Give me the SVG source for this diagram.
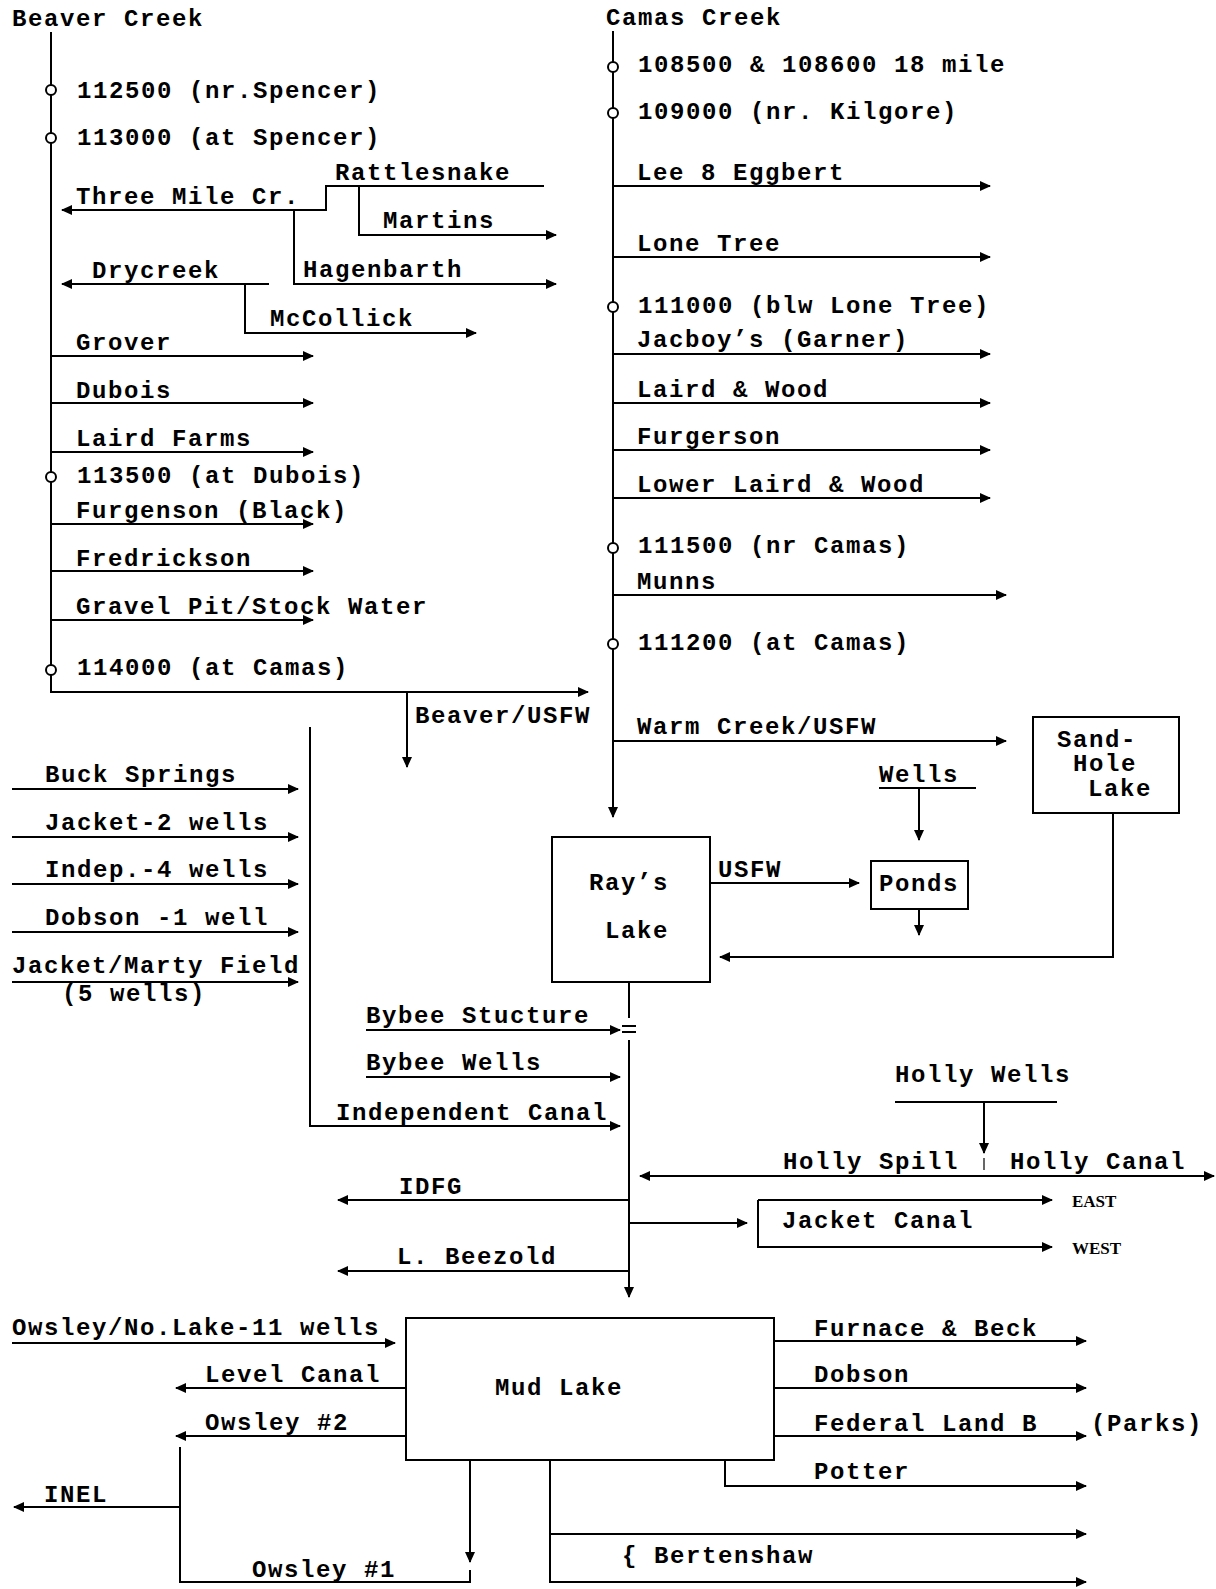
<svg xmlns="http://www.w3.org/2000/svg" width="1216" height="1589" viewBox="0 0 1216 1589">
<style>
text{font-family:"Liberation Mono","DejaVu Sans Mono",monospace;font-weight:bold;font-size:24px;letter-spacing:1.6px;fill:#000}
text.sm{font-family:"Liberation Serif",serif;font-size:17px;letter-spacing:0}
.ln{fill:none;stroke:#000;stroke-width:2}
.ar{marker-end:url(#ah)}
.thin{fill:none;stroke:#000;stroke-width:1.2}
.g{fill:#fff;stroke:#000;stroke-width:2}
.box{fill:#fff;stroke:#000;stroke-width:2}
</style>
<defs>
<marker id="ah" markerWidth="11" markerHeight="10" refX="10" refY="5" orient="auto" markerUnits="userSpaceOnUse"><path d="M0,0 L11,5 L0,10 z" fill="#000"/></marker>
</defs>
<rect width="1216" height="1589" fill="#fff"/>
<g id="connectors">
<!-- Beaver Creek main -->
<path class="ln ar" d="M51,32 V692 H588"/>
<path class="ln ar" d="M544,186 H326 V210 H62"/>
<path class="ln ar" d="M359,186 V235 H556"/>
<path class="ln ar" d="M294,210 V284 H556"/>
<path class="ln ar" d="M269,284 H62"/>
<path class="ln ar" d="M245,284 V333 H476"/>
<path class="ln ar" d="M51,356 H313"/>
<path class="ln ar" d="M51,403 H313"/>
<path class="ln ar" d="M51,452 H313"/>
<path class="ln ar" d="M51,524 H313"/>
<path class="ln ar" d="M51,571 H313"/>
<path class="ln ar" d="M51,620 H313"/>
<path class="ln ar" d="M407,692 V767"/>
<!-- middle left -->
<path class="ln ar" d="M310,727 V1126 H620"/>
<path class="ln ar" d="M12,789 H298"/>
<path class="ln ar" d="M12,837 H298"/>
<path class="ln ar" d="M12,884 H298"/>
<path class="ln ar" d="M12,932 H298"/>
<path class="ln ar" d="M12,982 H298"/>
<path class="ln ar" d="M366,1030 H620"/>
<path class="ln ar" d="M366,1077 H620"/>
<!-- Camas Creek -->
<path class="ln ar" d="M613,31 V817"/>
<path class="ln ar" d="M613,186 H990"/>
<path class="ln ar" d="M613,257 H990"/>
<path class="ln ar" d="M613,354 H990"/>
<path class="ln ar" d="M613,403 H990"/>
<path class="ln ar" d="M613,450 H990"/>
<path class="ln ar" d="M613,498 H990"/>
<path class="ln ar" d="M613,595 H1006"/>
<path class="ln ar" d="M613,741 H1006"/>
<!-- lakes -->
<path class="ln" d="M879,788 H976"/>
<path class="ln ar" d="M919,788 V840"/>
<path class="ln ar" d="M919,909 V935"/>
<path class="ln ar" d="M710,883 H859"/>
<path class="ln ar" d="M1113,813 V957 H720"/>
<path class="ln" d="M629,982 V1018 M622,1026 H636 M622,1032 H636"/>
<path class="ln ar" d="M629,1040 V1297"/>
<path class="ln" d="M895,1102 H1057"/>
<path class="ln ar" d="M984,1102 V1153"/>
<path class="thin" d="M984,1158 V1170"/>
<path class="ln ar" d="M984,1176 H640"/>
<path class="ln ar" d="M984,1176 H1214"/>
<path class="ln ar" d="M629,1200 H338"/>
<path class="ln ar" d="M629,1271 H338"/>
<path class="ln ar" d="M629,1223 H747"/>
<path class="ln ar" d="M758,1200 H1052"/>
<path class="ln ar" d="M758,1200 V1247 H1052"/>
<!-- Mud Lake -->
<path class="ln ar" d="M12,1343 H395"/>
<path class="ln ar" d="M406,1388 H176"/>
<path class="ln ar" d="M406,1436 H176"/>
<path class="ln" d="M180,1447 V1582 H470 V1570"/>
<path class="ln ar" d="M180,1507 H14"/>
<path class="ln ar" d="M470,1460 V1562"/>
<path class="ln ar" d="M550,1460 V1582 H1086"/>
<path class="ln ar" d="M550,1534 H1086"/>
<path class="ln ar" d="M774,1341 H1086"/>
<path class="ln ar" d="M774,1388 H1086"/>
<path class="ln ar" d="M774,1436 H1086"/>
<path class="ln ar" d="M725,1460 V1486 H1086"/>
</g>
<g id="beaver-creek"><text x="12" y="26">Beaver Creek</text></g>
<g id="g112500"><circle class="g" cx="51" cy="90" r="5"/><text x="77" y="98">112500 (nr.Spencer)</text></g>
<g id="g113000"><circle class="g" cx="51" cy="138" r="5"/><text x="77" y="145">113000 (at Spencer)</text></g>
<g id="rattlesnake"><text x="335" y="180">Rattlesnake</text></g>
<g id="three-mile"><text x="76" y="204">Three Mile Cr.</text></g>
<g id="martins"><text x="383" y="228">Martins</text></g>
<g id="hagenbarth"><text x="303" y="277">Hagenbarth</text></g>
<g id="drycreek"><text x="92" y="278">Drycreek</text></g>
<g id="mccollick"><text x="270" y="326">McCollick</text></g>
<g id="grover"><text x="76" y="350">Grover</text></g>
<g id="dubois"><text x="76" y="398">Dubois</text></g>
<g id="laird-farms"><text x="76" y="446">Laird Farms</text></g>
<g id="g113500"><circle class="g" cx="51" cy="477" r="5"/><text x="77" y="483">113500 (at Dubois)</text></g>
<g id="furgenson"><text x="76" y="518">Furgenson (Black)</text></g>
<g id="fredrickson"><text x="76" y="566">Fredrickson</text></g>
<g id="gravel-pit"><text x="76" y="614">Gravel Pit/Stock Water</text></g>
<g id="g114000"><circle class="g" cx="51" cy="670" r="5"/><text x="77" y="675">114000 (at Camas)</text></g>
<g id="beaver-usfw"><text x="415" y="723">Beaver/USFW</text></g>
<g id="buck-springs"><text x="45" y="782">Buck Springs</text></g>
<g id="jacket-2"><text x="45" y="830">Jacket-2 wells</text></g>
<g id="indep-4"><text x="45" y="877">Indep.-4 wells</text></g>
<g id="dobson-1"><text x="45" y="925">Dobson -1 well</text></g>
<g id="jacket-marty"><text x="12" y="973">Jacket/Marty Field</text><text x="62" y="1001">(5 wells)</text></g>
<g id="bybee-stucture"><text x="366" y="1023">Bybee Stucture</text></g>
<g id="bybee-wells"><text x="366" y="1070">Bybee Wells</text></g>
<g id="independent-canal"><text x="336" y="1120">Independent Canal</text></g>
<g id="camas-creek"><text x="606" y="25">Camas Creek</text></g>
<g id="g108500"><circle class="g" cx="613" cy="67" r="5"/><text x="638" y="72">108500 &amp; 108600 18 mile</text></g>
<g id="g109000"><circle class="g" cx="613" cy="113" r="5"/><text x="638" y="119">109000 (nr. Kilgore)</text></g>
<g id="lee-eggbert"><text x="637" y="180">Lee 8 Eggbert</text></g>
<g id="lone-tree"><text x="637" y="251">Lone Tree</text></g>
<g id="g111000"><circle class="g" cx="613" cy="307" r="5"/><text x="638" y="313">111000 (blw Lone Tree)</text></g>
<g id="jacboys"><text x="637" y="347">Jacboy’s (Garner)</text></g>
<g id="laird-wood"><text x="637" y="397">Laird &amp; Wood</text></g>
<g id="furgerson"><text x="637" y="444">Furgerson</text></g>
<g id="lower-laird"><text x="637" y="492">Lower Laird &amp; Wood</text></g>
<g id="g111500"><circle class="g" cx="613" cy="548" r="5"/><text x="638" y="553">111500 (nr Camas)</text></g>
<g id="munns"><text x="637" y="589">Munns</text></g>
<g id="g111200"><circle class="g" cx="613" cy="644" r="5"/><text x="638" y="650">111200 (at Camas)</text></g>
<g id="warm-creek"><text x="637" y="734">Warm Creek/USFW</text></g>
<g id="sandhole"><rect class="box" x="1033" y="717" width="146" height="96"/><text x="1057" y="747">Sand-</text><text x="1073" y="771">Hole</text><text x="1088" y="796">Lake</text></g>
<g id="wells"><text x="879" y="782">Wells</text></g>
<g id="ponds"><rect class="box" x="871" y="861" width="97" height="48"/><text x="879" y="891">Ponds</text></g>
<g id="rays-lake"><rect class="box" x="552" y="837" width="158" height="145"/><text x="589" y="890">Ray’s</text><text x="605" y="938">Lake</text></g>
<g id="usfw"><text x="718" y="877">USFW</text></g>
<g id="holly-wells"><text x="895" y="1082">Holly Wells</text></g>
<g id="holly-spill"><text x="783" y="1169">Holly Spill</text></g>
<g id="holly-canal"><text x="1010" y="1169">Holly Canal</text></g>
<g id="idfg"><text x="399" y="1194">IDFG</text></g>
<g id="beezold"><text x="397" y="1264">L. Beezold</text></g>
<g id="jacket-canal"><text x="782" y="1228">Jacket Canal</text><text class="sm" x="1072" y="1207">EAST</text><text class="sm" x="1072" y="1254">WEST</text></g>
<g id="mud-lake"><rect class="box" x="406" y="1318" width="368" height="142"/><text x="495" y="1395">Mud Lake</text></g>
<g id="owsley-nolake"><text x="12" y="1335">Owsley/No.Lake-11 wells</text></g>
<g id="level-canal"><text x="205" y="1382">Level Canal</text></g>
<g id="owsley-2"><text x="205" y="1430">Owsley #2</text></g>
<g id="inel"><text x="44" y="1502">INEL</text></g>
<g id="owsley-1"><text x="252" y="1577">Owsley #1</text></g>
<g id="bertenshaw"><text x="622" y="1563">{ Bertenshaw</text></g>
<g id="furnace-beck"><text x="814" y="1336">Furnace &amp; Beck</text></g>
<g id="dobson"><text x="814" y="1382">Dobson</text></g>
<g id="federal-land"><text x="814" y="1431">Federal Land B</text><text x="1091" y="1431">(Parks)</text></g>
<g id="potter"><text x="814" y="1479">Potter</text></g>
</svg>
